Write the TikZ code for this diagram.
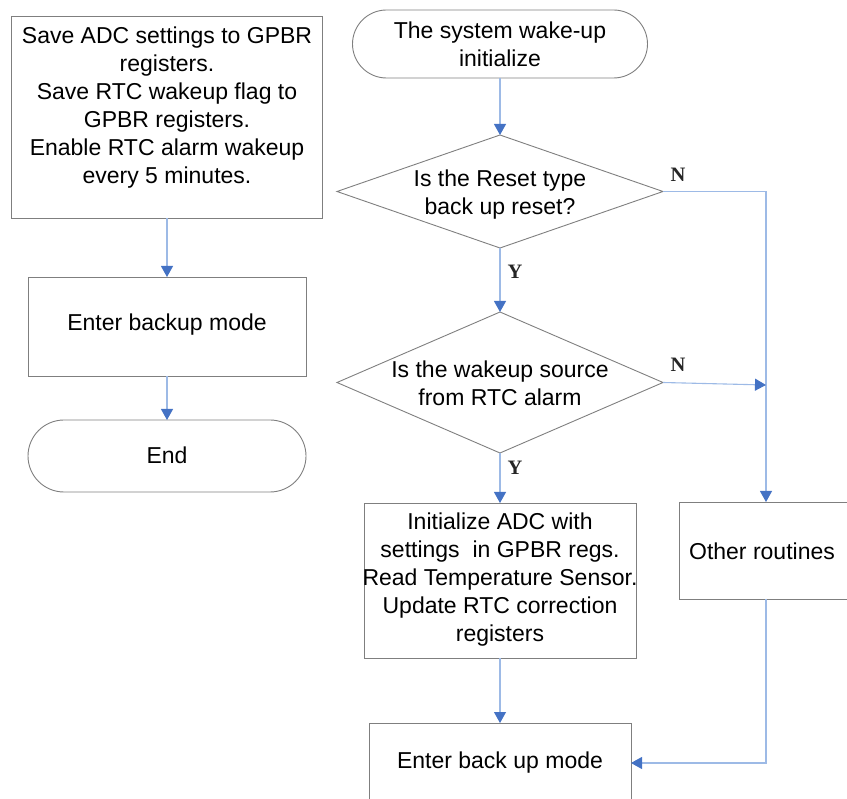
\documentclass[tikz,border=0pt]{standalone}
\usepackage{fontspec}
\setmainfont{Liberation Sans}
\newfontfamily\ynfont{Liberation Serif}
\usetikzlibrary{shapes.geometric,arrows.meta}
\definecolor{edgegray}{HTML}{7F7F7F}
\definecolor{flowline}{HTML}{9DBAE6}
\definecolor{tipblue}{HTML}{4472C4}
\begin{document}
\begin{tikzpicture}[x=1pt,y=-1pt,
  every node/.style={font=\fontsize{23}{28}\selectfont, align=center, inner sep=0pt, outer sep=0pt},
  procbox/.style={draw=edgegray, line width=0.9pt, rectangle},
  termbox/.style={draw=edgegray, line width=0.9pt, rectangle, rounded corners=#1},
  decision/.style={draw=edgegray, line width=0.9pt, diamond},
  flow/.style={draw=flowline, line width=1.1pt, -{Triangle[width=12pt,length=11pt,color=tipblue]}},
  yn/.style={font=\ynfont\bfseries\fontsize{20.5}{22}\selectfont, text=black!85}
]
\useasboundingbox (0,0) rectangle (847,799);
\clip (0,0) rectangle (847,799);

% left column
\node[procbox, minimum width=311, minimum height=202] (b1) at (167,117) {};
\node (b1t) at (167,108) {Save ADC settings to GPBR\\registers.\\Save RTC wakeup flag to\\GPBR registers.\\Enable RTC alarm wakeup\\every 5 minutes.};
\node[procbox, minimum width=278, minimum height=99] (b2) at (167,326.5) {};
\node (b2t) at (167,325) {Enter backup mode};
\node[termbox=36pt, minimum width=278, minimum height=72] (endt) at (167,456) {};
\node (endtt) at (167,455) {End};

% right column
\node[termbox=34pt, minimum width=295, minimum height=68] (t1) at (500,44) {};
\node (t1t) at (500,44) {The system wake-up\\initialize};
\node[decision, minimum width=326, minimum height=113] (d1) at (500,191.5) {};
\node (d1t) at (500,195) {Is the Reset type\\back up reset?};
\node[decision, minimum width=326, minimum height=141] (d2) at (500,382.5) {};
\node (d2t) at (500,383) {Is the wakeup source\\from RTC alarm};
\node[procbox, minimum width=272, minimum height=155] (init) at (500,580.5) {};
\node (initt) at (500,580) {Initialize ADC with\\settings\ \ in GPBR regs.\\Read Temperature Sensor.\\Update RTC correction\\registers};
\node[procbox, minimum width=174, minimum height=97] (other) at (766,550.5) {};
\node (othert) at (762,551) {Other routines};
\node[procbox, minimum width=262, minimum height=80] (eb) at (500,763) {};
\node (ebt) at (500,763) {Enter back up mode};

% branch labels
\node[yn] (n1) at (678,175) {N};
\node[yn] (n2) at (678,365) {N};
\node[yn] (y1) at (515,272) {Y};
\node[yn] (y2) at (515,468) {Y};

\coordinate (j2) at (766,385);

% connectors
\draw[flow] (b1.south) -- (b2.north);
\draw[flow] (b2.south) -- (endt.north);
\draw[flow] (t1.south) -- (d1.north);
\draw[flow] (d1.south) -- (d2.north);
\draw[flow] (d2.south) -- (init.north);
\draw[flow] (init.south) -- (eb.north);
\draw[flow] (d1.east) -- (d1.east -| other.north) -- (other.north);
\draw[flow] (d2.east) -- (j2);
\draw[flow] (other.south) |- (eb.east);
\end{tikzpicture}
\end{document}
